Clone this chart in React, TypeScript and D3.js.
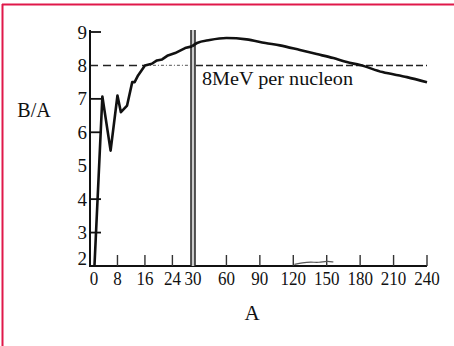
import * as d3 from 'd3'

// binding energy per nucleon curve
const massNumbers = [1.3, 3.6, 6, 8, 9, 10.8, 12.3, 13, 14, 16, 18, 19.5, 21, 22.7, 24.8, 27.7, 29.7, 33.6, 45, 60, 78, 95, 108, 126, 141, 156, 168, 180, 200, 222, 240]
const bindingPerNucleon = [2.0, 7.07, 5.45, 7.1, 6.6, 6.8, 7.5, 7.5, 7.7, 8.0, 8.05, 8.15, 8.18, 8.3, 8.37, 8.52, 8.57, 8.67, 8.76, 8.82, 8.78, 8.67, 8.6, 8.46, 8.34, 8.22, 8.1, 8.01, 7.8, 7.65, 7.5]

// faint scan trace just above the axis between 120 and 150
const traceA = [121, 128, 136, 143, 150, 156]
const traceB = [2.05, 2.1, 2.12, 2.1, 2.15, 2.12]

const xTicks = [0, 8, 16, 24, 30, 60, 90, 120, 150, 180, 210, 240]
const yTicks = [2, 3, 4, 5, 6, 7, 8, 9]
const yTickMarks = [3, 4, 6, 7, 9]
const refLevel = 8
const breakAt = 30

export default function App() {
  document.body.style.margin = '0'
  const W = 454
  const H = 346

  const x = d3.scaleLinear().domain([0, breakAt, 240]).range([90, 193, 427])
  const y = d3.scaleLinear().domain([2, 9]).range([266, 32])

  const points: [number, number][] = massNumbers.map((a, i) => [a, bindingPerNucleon[i]])
  // jagged light-nuclei part is straight segments, the heavy part is smooth
  const light = points.filter((p) => p[0] <= breakAt)
  const heavy = points.filter((p, i) => p[0] > breakAt || i === light.length - 1)

  const jagged = d3.line<[number, number]>()
    .x((d) => x(d[0]))
    .y((d) => y(d[1]))
  const smooth = d3.line<[number, number]>()
    .x((d) => x(d[0]))
    .y((d) => y(d[1]))
    .curve(d3.curveMonotoneX)
  const traceLine = d3.line<number>()
    .x((_, i) => x(traceA[i]))
    .y((d) => y(d))
    .curve(d3.curveBasis)

  const font = '"Liberation Serif", "Times New Roman", serif'
  const crossA = 16
  const x0 = x(0)
  const xEnd = x(240)
  const yBase = y(2)

  return (
    <svg width={W} height={H} style={{ display: 'block', background: '#fff' }} fontFamily={font}>
      {/* frame */}
      <line x1={2} x2={W} y1={4.5} y2={4.5} stroke="#e0184a" strokeWidth={2} />
      <line x1={2.5} x2={2.5} y1={4} y2={H} stroke="#e0184a" strokeWidth={2} />

      {/* reference level 8 MeV */}
      <line x1={x0} x2={x(crossA)} y1={y(refLevel)} y2={y(refLevel)} stroke="#222" strokeWidth={1.6} strokeDasharray="8,5" />
      <line x1={x(crossA)} x2={x(breakAt) - 3} y1={y(refLevel)} y2={y(refLevel)} stroke="#777" strokeWidth={1.2} strokeDasharray="3,2,1,2" />
      <line x1={x(breakAt) + 3} x2={xEnd} y1={y(refLevel)} y2={y(refLevel)} stroke="#222" strokeWidth={1.6} strokeDasharray="7,3" />
      <text x={202} y={85} fontSize={19} textLength={151} lengthAdjust="spacingAndGlyphs" fill="#111">8MeV per nucleon</text>

      {/* axes */}
      <line x1={x0} x2={x0} y1={30} y2={yBase + 1} stroke="#111" strokeWidth={2} />
      <line x1={x0} x2={xEnd} y1={yBase} y2={yBase} stroke="#111" strokeWidth={2} />
      {yTickMarks.map((t) => (
        <line key={'yt' + t} x1={x0} x2={x0 + 11} y1={y(t)} y2={y(t)} stroke="#111" strokeWidth={1.8} />
      ))}
      {yTicks.map((t) => (
        <text key={'yl' + t} x={87} y={y(t) - (t === 2 ? 8 : 0)} fontSize={19} textAnchor="end" dominantBaseline="central" fill="#111">{t}</text>
      ))}
      {xTicks.filter((t) => t !== 0 && t !== breakAt).map((t) => (
        <line key={'xt' + t} x1={x(t)} x2={x(t)} y1={yBase} y2={yBase - 11} stroke="#333" strokeWidth={1.4} />
      ))}
      {xTicks.map((t) => (
        <text key={'xl' + t} x={x(t) + (t === 0 ? 4 : 0)} y={285} fontSize={18} textAnchor="middle" fill="#111"
          textLength={String(t).length * 8.5} lengthAdjust="spacingAndGlyphs">{t}</text>
      ))}

      {/* scale break at A = 30 */}
      <rect x={x(breakAt) - 2} y={30} width={4} height={yBase - 30} fill="#ccc" />
      <line x1={x(breakAt) - 2} x2={x(breakAt) - 2} y1={30} y2={yBase} stroke="#222" strokeWidth={1.5} />
      <line x1={x(breakAt) + 2} x2={x(breakAt) + 2} y1={30} y2={yBase} stroke="#222" strokeWidth={1.5} />

      {/* curves */}
      <path d={jagged(light) ?? ''} fill="none" stroke="#111" strokeWidth={2.6} strokeLinejoin="round" />
      <path d={smooth(heavy) ?? ''} fill="none" stroke="#111" strokeWidth={2.6} strokeLinejoin="round" />
      <path d={traceLine(traceB) ?? ''} fill="none" stroke="#555" strokeWidth={1.2} />

      {/* axis titles */}
      <text x={34} y={110} fontSize={20} textAnchor="middle" dominantBaseline="central" fill="#111">B/A</text>
      <text x={252} y={313} fontSize={21} textAnchor="middle" dominantBaseline="central" fill="#111">A</text>
    </svg>
  )
}
